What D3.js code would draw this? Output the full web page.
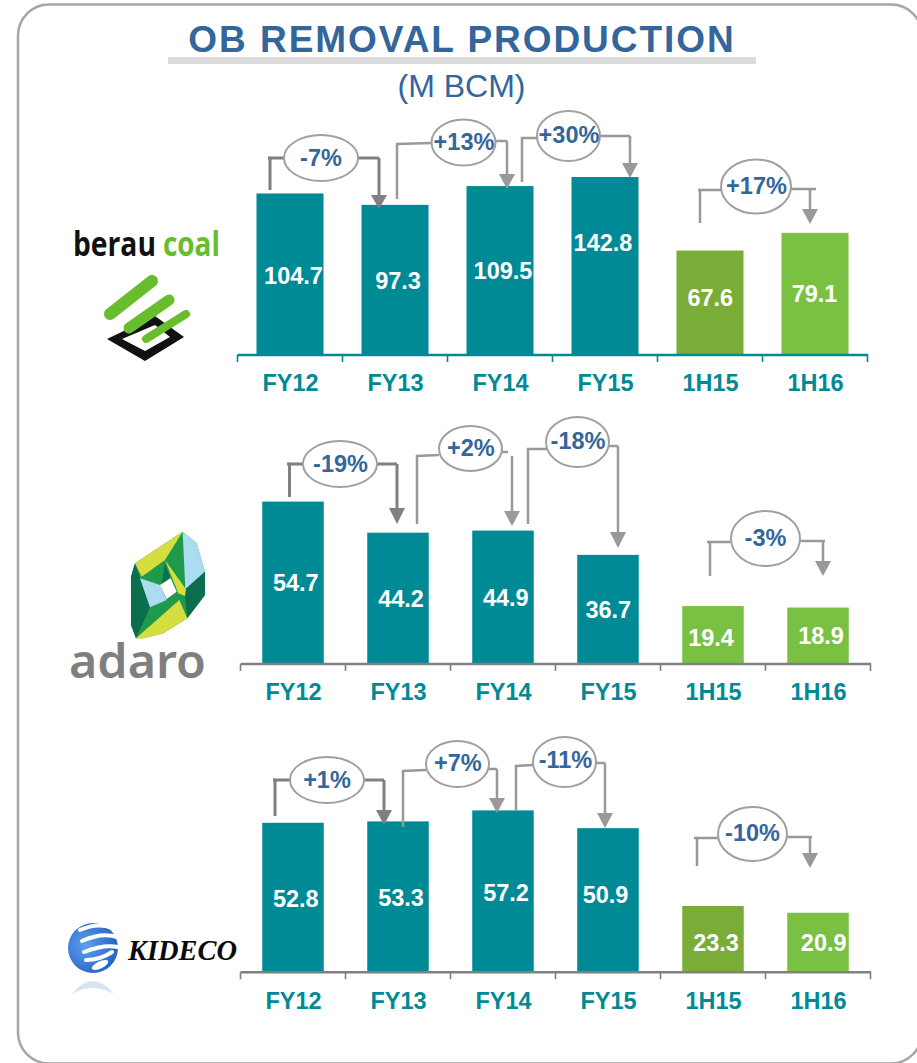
<!DOCTYPE html>
<html><head><meta charset="utf-8">
<script src="https://cdn.jsdelivr.net/npm/d3@7"></script>
<style>html,body{margin:0;padding:0;background:#fff;overflow:hidden}svg{display:block}</style>
</head><body><div id="chart"></div>
<script>
// ---------- data ----------
const categories = ["FY12","FY13","FY14","FY15","1H15","1H16"];
const berauValues  = [104.7, 97.3, 109.5, 142.8, 67.6, 79.1];
// the FY15 column of the source is drawn shorter than its label says
const berauBarHeights = [104.7, 97.3, 109.5, 115.4, 67.6, 79.1];
const adaroValues  = [54.7, 44.2, 44.9, 36.7, 19.4, 18.9];
const kidecoValues = [52.8, 53.3, 57.2, 50.9, 23.3, 20.9];
const berauChanges  = ["-7%","+13%","+30%","+17%"];
const adaroChanges  = ["-19%","+2%","-18%","-3%"];
const kidecoChanges = ["+1%","+7%","-11%","-10%"];

// ---------- layout ----------
const W = 917, H = 1063;
const SANS = '"Liberation Sans",Arial,sans-serif';
const TEAL = "#008a96", OLIVE = "#7aad37", LIME = "#7ac143", BLUE = "#33669a";
const panels = [
 { values: berauValues, bars: berauBarHeights, changes: berauChanges,
   base: 354.5, x0: 237.5, x1: 867.5, barW: 67, pxPerUnit: 1.538, axisColor: TEAL, axisText: 391,
   colors: [TEAL,TEAL,TEAL,TEAL,OLIVE,LIME],
   labelX: [293.5,398,503,603,710.3,814.5], labelY: [283.5,288.5,279,251,305.7,301.7],
   notes: [
    {line:[[284,158],[270,158],[270,190]], stub:[[268,158],[270,158]], out:[[358,158],[379,158]], ax:379, ay0:158, tip:209, head:14, e:[321,158,37,23], t:[321,165.7], c:"#808080", w:3},
    {line:[[432,143],[397,144],[397,199]], out:[[495,141],[507,141]], ax:507, ay0:141, tip:189, head:15, e:[463.5,142.5,32,23], t:[464,150], c:"#999", w:2.5},
    {line:[[537,138],[522,138],[522,182]], out:[[600,136],[630,136]], ax:630, ay0:136, tip:178, head:15, e:[568.5,136,31.5,25], t:[569,143], c:"#999", w:2.5},
    {line:[[721,190],[700,190],[700,223]], stub:[[698,190],[700,190]], out:[[791,189],[816,189]], ax:810, ay0:189, tip:224, head:15, e:[756,186.5,35,27], t:[756.5,194], c:"#999", w:2.5}
   ]},
 { values: adaroValues, bars: adaroValues, changes: adaroChanges,
   base: 663.5, x0: 240.5, x1: 870.5, barW: 61.5, pxPerUnit: 2.96, axisColor: "#808080", axisText: 700,
   colors: [TEAL,TEAL,TEAL,TEAL,LIME,LIME],
   labelX: [295.8,401,505.8,608.3,711,821], labelY: [590.7,606.7,606,618.3,646,644],
   notes: [
    {line:[[303,464],[289.5,464],[289.5,497]], stub:[[287,464],[290,464]], out:[[377,464],[397,464]], ax:397, ay0:464, tip:524, head:16, e:[340,464,37,23], t:[340.5,471.7], c:"#808080", w:3},
    {line:[[439,455],[417,456],[417,524]], out:[[502,452],[508,452]], ax:512, ay0:456, tip:526, head:15, e:[470.5,448.5,31.5,22.5], t:[470.8,456], c:"#999", w:2.5},
    {line:[[547,449],[528,449],[528,524]], out:[[609,446],[618,446]], ax:618, ay0:446, tip:548, head:16, e:[577.5,442,31.5,25], t:[578,449], c:"#999", w:2.5},
    {line:[[731,542],[710,542],[710,576]], stub:[[707,542],[710,542]], out:[[800,541],[825,541]], ax:823, ay0:541, tip:576, head:15, e:[765.5,538.5,34.5,27.5], t:[765.5,546], c:"#999", w:2.5}
   ]},
 { values: kidecoValues, bars: kidecoValues, changes: kidecoChanges,
   base: 971.7, x0: 240.5, x1: 870.5, barW: 61.5, pxPerUnit: 2.82, axisColor: "#808080", axisText: 1008.7,
   colors: [TEAL,TEAL,TEAL,TEAL,OLIVE,LIME],
   labelX: [295.8,401,506,605.5,716,823.7], labelY: [906.7,905.7,900.7,902.7,951,951],
   notes: [
    {line:[[290,780],[275,780],[275,816]], stub:[[273,780],[275,780]], out:[[364,780],[384,780]], ax:384, ay0:780, tip:825, head:15, e:[327,780,37,23], t:[327,787.7], c:"#808080", w:3},
    {line:[[426,770],[403,771],[403,827]], out:[[489,769],[497,769]], ax:497, ay0:769, tip:813, head:15, e:[457.5,764,31.5,23], t:[457.8,771], c:"#999", w:2.5},
    {line:[[533,765],[516,766],[516,810]], out:[[596,763],[605,763]], ax:605, ay0:763, tip:828, head:15, e:[564.5,762,31.5,25], t:[565.5,768], c:"#999", w:2.5},
    {line:[[718,838],[697,838],[697,866]], stub:[[694,838],[697,838]], out:[[787,837],[812,837]], ax:810, ay0:837, tip:868, head:15, e:[752.5,834,34.5,27], t:[752.5,841], c:"#999", w:2.5}
   ]}
];

const svg = d3.select("#chart").append("svg").attr("width",W).attr("height",H).style("font-family",SANS);

// frame
svg.append("rect").attr("x",18).attr("y",4.5).attr("width",904).attr("height",1059)
  .attr("rx",31).attr("fill","#fff").attr("stroke","#a6a6a6").attr("stroke-width",2.5);

// titles
svg.append("rect").attr("x",168).attr("y",57).attr("width",588).attr("height",7).attr("fill","#dcdcdc");
svg.append("text").attr("x",462).attr("y",52).attr("text-anchor","middle")
  .attr("font-size",37).attr("font-weight",700).attr("letter-spacing",1.95).attr("fill",BLUE)
  .text("OB REMOVAL PRODUCTION");
svg.append("text").attr("x",461.5).attr("y",97).attr("text-anchor","middle")
  .attr("font-size",32).attr("fill",BLUE).text("(M BCM)");

const lineGen = d3.line();
panels.forEach(p => {
  const g = svg.append("g");
  const pad = 1 - p.barW / ((p.x1 - p.x0) / categories.length);
  const x = d3.scaleBand().domain(categories).range([p.x0,p.x1]).paddingInner(pad).paddingOuter(pad/2);
  const y = d3.scaleLinear().domain([0,100]).range([p.base, p.base - 100*p.pxPerUnit]);

  // bars
  g.selectAll("rect.bar").data(categories).join("rect").attr("class","bar")
    .attr("x",d=>x(d)).attr("width",x.bandwidth())
    .attr("y",(d,i)=>y(p.bars[i])).attr("height",(d,i)=>y(0)-y(p.bars[i]))
    .attr("fill",(d,i)=>p.colors[i]);

  // axis
  const axis = g.append("g").attr("transform",`translate(0,${p.base})`)
    .call(d3.axisBottom(x).tickSize(0).tickSizeOuter(0));
  axis.select(".domain").attr("stroke",p.axisColor).attr("stroke-width",2.5);
  axis.selectAll(".tick text").attr("y",p.axisText-p.base).attr("dy",0).attr("dx",0.5)
    .attr("font-size",23.5).attr("font-weight",700).attr("fill",TEAL)
    .style("font-family",SANS);
  const step = x.step();
  g.selectAll("line.edge").data(d3.range(categories.length+1)).join("line").attr("class","edge")
    .attr("x1",i=>p.x0+i*step).attr("x2",i=>p.x0+i*step)
    .attr("y1",p.base).attr("y2",p.base+7.5)
    .attr("stroke",p.axisColor).attr("stroke-width",1.6);

  // value labels
  g.selectAll("text.val").data(p.values).join("text").attr("class","val")
    .attr("x",(d,i)=>p.labelX[i]).attr("y",(d,i)=>p.labelY[i]).attr("text-anchor","middle")
    .attr("font-size",23.5).attr("font-weight",700).attr("fill","#fff")
    .text(d=>d.toFixed(1));

  // change callouts
  p.notes.forEach((n,i) => {
    const a = g.append("g");
    const st = s => s.attr("fill","none").attr("stroke",n.c).attr("stroke-width",n.w);
    a.append("path").attr("d",lineGen(n.line)).call(st);
    if (n.stub) a.append("path").attr("d",lineGen(n.stub)).call(st);
    a.append("path").attr("d",lineGen(n.out)).call(st);
    a.append("path").attr("d",lineGen([[n.ax,n.ay0],[n.ax,n.tip-n.head]])).call(st);
    a.append("path").attr("d",lineGen([[n.ax-8,n.tip-n.head],[n.ax+8,n.tip-n.head],[n.ax,n.tip]])+"Z").attr("fill",n.c);
    a.append("ellipse").attr("cx",n.e[0]).attr("cy",n.e[1]).attr("rx",n.e[2]).attr("ry",n.e[3])
      .attr("fill","#fff").attr("stroke","#a0a0a0").attr("stroke-width",2);
    a.append("text").attr("x",n.t[0]).attr("y",n.t[1]).attr("text-anchor","middle")
      .attr("font-size",23.5).attr("font-weight",700).attr("fill",BLUE).text(p.changes[i]);
  });
});

// ---------- logos ----------
// squeezes a word horizontally so that it exactly fills the width of the logotype
function fitted(parent, str, x, y, width, size, weight, family, fill, fontStyle) {
  const t = parent.append("text").attr("font-size",size).attr("font-weight",weight)
    .attr("font-style",fontStyle || "normal")
    .style("font-family",family).attr("fill",fill).text(str);
  const sx = width / t.node().getComputedTextLength();
  return t.attr("transform",`translate(${x},${y}) scale(${sx},1)`);
}
// berau coal
const b = svg.append("g");
fitted(b,"berau",73,256,83,34,700,'"Open Sans",sans-serif',"#111");
fitted(b,"coal",163,256,57,34,700,'"Open Sans",sans-serif',"#67bd2c");
b.append("path").attr("d","M107,339L155,316L184,337L145,361Z").attr("fill","#111");
b.append("path").attr("d","M122,339L155,325L170,337L145,351Z").attr("fill","#fff");
[[[110,314],[152,281],12],[[129,328],[169,300],11],[[146,339],[186,314],8]].forEach(s=>{
  b.append("line").attr("x1",s[0][0]).attr("y1",s[0][1]).attr("x2",s[1][0]).attr("y2",s[1][1])
    .attr("stroke","#67bd2c").attr("stroke-width",s[2]).attr("stroke-linecap","round");
});

const ad = svg.append("g").attr("transform","translate(50,500) scale(0.3333)");
const adY="#d6de3f", adG="#1e9a4a", adD="#0a6e4f", adB="#acdcf2";
[
 [adG,"398,95 440,130 465,215 465,285 412,355 340,400 280,415 258,415 243,375 243,230 255,190"],
 [adD,"255,190 300,322 258,415 243,375 243,230"],
 [adY,"255,190 398,95 345,180 275,230"],
 [adB,"398,95 440,130 465,215 406,268"],
 [adD,"465,215 465,285 412,355 405,290 406,268"],
 [adB,"270,235 330,255 350,300 300,322"],
 [adD,"345,190 360,232 335,252"],
 [adY,"345,180 408,268 405,288 385,280"],
 [adY,"258,415 388,300 412,355 340,400 280,415"],
 ["#fff","330,255 362,235 380,275 350,297"]
].forEach(d=>ad.append("polygon").attr("points",d[1]).attr("fill",d[0]));
fitted(svg,"adaro",69,678,137,47,600,'"Noto Sans",sans-serif',"#7f7f7f");

// kideco
const defs = svg.append("defs");
const rg = defs.append("radialGradient").attr("id","globe").attr("cx","35%").attr("cy","45%").attr("r","70%");
rg.append("stop").attr("offset","0%").attr("stop-color","#5f9fee");
rg.append("stop").attr("offset","100%").attr("stop-color","#1f5fc0");
const kd = svg.append("g");
kd.append("circle").attr("cx",93).attr("cy",948).attr("r",25).attr("fill","url(#globe)");
["M80,930Q98,922 112,928","M82,941Q102,932 117,937","M84,952Q104,944 118,947","M86,960Q100,960 112,952"].forEach(d=>
  kd.append("path").attr("d",d).attr("fill","none").attr("stroke","#fff").attr("stroke-width",4).attr("stroke-linecap","round"));
kd.append("ellipse").attr("cx",100).attr("cy",965).attr("rx",9).attr("ry",3.5).attr("fill","#fff").attr("transform","rotate(-25 100 965)");
kd.append("path").attr("d","M72,994Q92,968 114,994Q92,982 72,994Z").attr("fill","#c9d8ee").attr("opacity",0.7);
fitted(svg,"KIDECO",128,959.5,109,30,700,'"Liberation Serif",serif',"#0a0a0a","italic");
</script>
</body></html>
